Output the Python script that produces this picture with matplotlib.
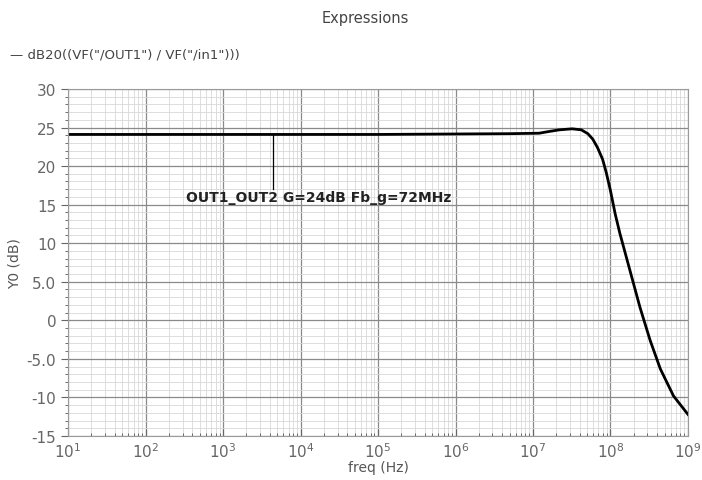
import matplotlib
matplotlib.use("Agg")
import matplotlib.pyplot as plt
from matplotlib.ticker import FixedLocator, FixedFormatter, LogLocator, MultipleLocator, NullFormatter

# data
freq = [1e1, 1e5, 5e6, 1.2e7, 1.6e7, 2.2e7, 3.2e7, 4.2e7, 5.1e7, 5.9e7,
        6.8e7, 7.9e7, 8.8e7, 1e8, 1.15e8, 1.32e8, 1.78e8, 2.4e8, 3.25e8, 4.4e8,
        6.5e8, 1e9]
gain_db = [24.1, 24.1, 24.2, 24.26, 24.48, 24.7, 24.83, 24.7, 24.2, 23.5,
           22.4, 20.9, 19.2, 16.8, 13.8, 11.3, 6.5, 1.7, -2.6, -6.3,
           -9.8, -12.2]

y_ticks = [30, 25, 20, 15, 10, 5, 0, -5, -10, -15]
y_tick_labels = ['30', '25', '20', '15', '10', '5.0', '0', '-5.0', '-10', '-15']
x_ticks = [10.0 ** k for k in range(1, 10)]
x_tick_labels = [r'$10^{%d}$' % k for k in range(1, 10)]

marker_freq = 4.4e3
marker_gain = 24.1
marker_text = 'OUT1_OUT2 G=24dB Fb_g=72MHz'
trace_name = 'dB20((VF("/OUT1") / VF("/in1")))'

fig = plt.figure(figsize=(7.02, 4.81), dpi=100)
ax = fig.add_axes([0.097, 0.0915, 0.883, 0.7215])

ax.plot(freq, gain_db, color='black', linewidth=2.0, solid_joinstyle='round')

ax.set_xscale('log')
ax.set_xlim(1e1, 1e9)
ax.set_ylim(-15, 30)

ax.xaxis.set_major_locator(FixedLocator(x_ticks))
ax.xaxis.set_major_formatter(FixedFormatter(x_tick_labels))
ax.xaxis.set_minor_locator(LogLocator(base=10, subs=range(2, 10), numticks=20))
ax.xaxis.set_minor_formatter(NullFormatter())
ax.yaxis.set_major_locator(FixedLocator(y_ticks))
ax.yaxis.set_major_formatter(FixedFormatter(y_tick_labels))
ax.yaxis.set_minor_locator(MultipleLocator(1))

ax.grid(which='major', color='#8a8a8a', linewidth=0.9)
ax.grid(which='minor', color='#d8d8d8', linewidth=0.6)
ax.set_axisbelow(True)

ax.tick_params(axis='both', which='major', labelsize=11, colors='#666666', length=5)
ax.tick_params(axis='both', which='minor', length=2.5, color='#555555')
ax.tick_params(axis='x', which='both', direction='in')
for s in ax.spines.values():
    s.set_color('#9a9a9a')

ax.set_xlabel('freq (Hz)', fontsize=10, color='#555555', labelpad=0)
ax.set_ylabel('Y0 (dB)', fontsize=10, color='#555555', labelpad=4)

# marker line and label
ax.plot([marker_freq, marker_freq], [marker_gain, 17.0], color='black', linewidth=0.9)
ax.text(330, 16.0, marker_text, fontsize=10, fontweight='bold', color='#222222',
        ha='left', va='center')

fig.text(0.52, 0.962, 'Expressions', fontsize=10.5, color='#444444', ha='center', va='center')
fig.text(0.014, 0.885, '\u2014 ' + trace_name, fontsize=9.5, color='#444444', ha='left', va='center')

fig.savefig('out.png', dpi=100)
